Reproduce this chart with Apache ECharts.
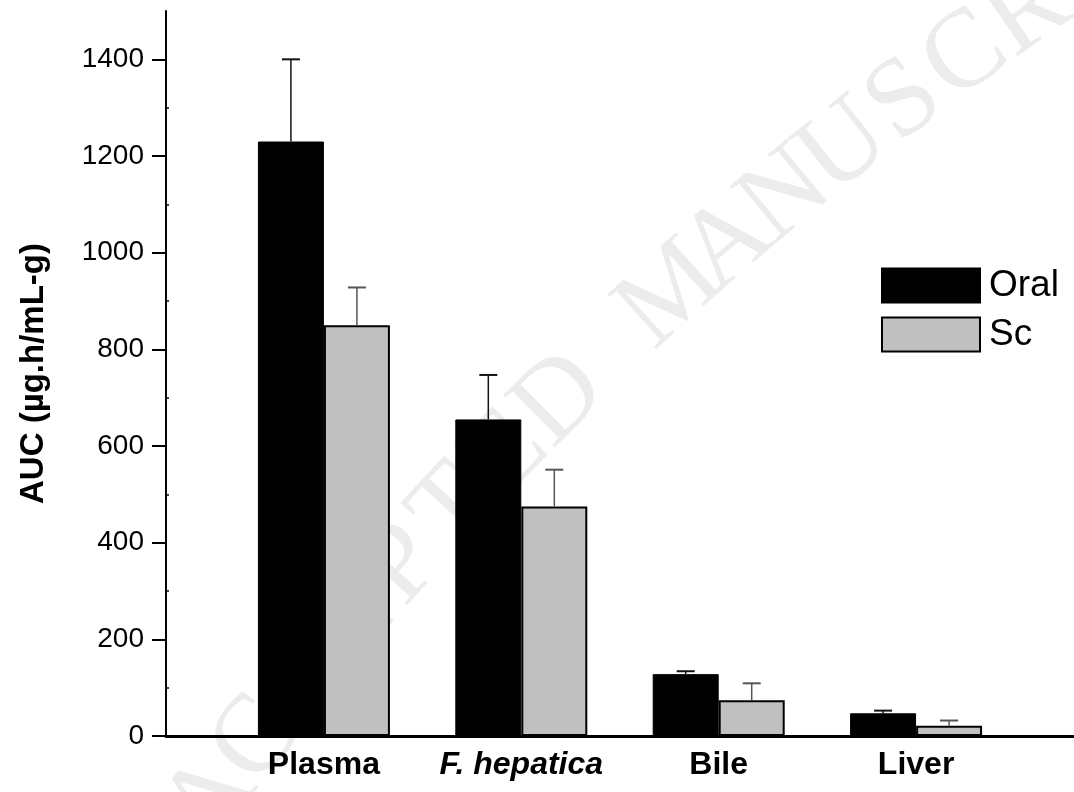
<!DOCTYPE html>
<html>
<head>
<meta charset="utf-8">
<script src="https://cdn.jsdelivr.net/npm/echarts@6/dist/echarts.min.js"></script>
<style>html,body{margin:0;padding:0;background:#fff}#c{width:1074px;height:792px}</style>
</head>
<body>
<div id="c"></div>
<script>
const categories = ['Plasma', 'F. hepatica', 'Bile', 'Liver'];
const positions = [1, 2, 3, 4];
const oralMean = [1230, 655, 128, 47];
const oralErr = [170, 92, 6, 5.5];
const scMean = [850, 475, 74, 21];
const scErr = [78, 76, 35, 11];
const yTicks = [0, 200, 400, 600, 800, 1000, 1200, 1400];
const yMinorTicks = [100, 300, 500, 700, 900, 1100, 1300];
const watermarkText = 'ACCEPTED MANUSCRIPT';

const FONT = 'Liberation Sans, Arial, sans-serif';
const BAR_W = 66;

const chart = echarts.init(document.getElementById('c'), null, {renderer: 'canvas'});

// faint curved watermark (decoration, not data)
function watermark() {
  const cx = 3032, cy = 2908, R = 3521;
  const phi0 = Math.atan2(800 - cy, 210 - cx);
  const step = 76;
  const out = [];
  for (let i = 0; i < watermarkText.length; i++) {
    const ch = watermarkText[i];
    if (ch === ' ') continue;
    const phi = phi0 + (i * step) / R;
    const x = cx + R * Math.cos(phi), y = cy + R * Math.sin(phi);
    const tx = -Math.sin(phi), ty = Math.cos(phi);
    out.push({
      type: 'text', x: x, y: y, rotation: Math.atan2(-ty, tx), z: -10, silent: true,
      style: {text: ch, font: '112px "Liberation Serif", "DejaVu Serif", serif', fill: '#ececec', align: 'center', verticalAlign: 'middle'}
    });
  }
  return out;
}

function errSeries(name, means, errs, offset, color) {
  return {
    type: 'custom',
    name: name,
    z: 5,
    silent: true,
    data: means.map((m, i) => [positions[i], m, errs[i]]),
    renderItem: function (params, api) {
      const x = api.value(0), m = api.value(1), e = api.value(2);
      const pb = api.coord([x, m]);
      const pt = api.coord([x, m + e]);
      const cx = pb[0] + offset;
      return {
        type: 'group',
        children: [
          {type: 'line', shape: {x1: cx, y1: pb[1], x2: cx, y2: pt[1]}, style: {stroke: color, lineWidth: 1.5}},
          {type: 'line', shape: {x1: cx - 9, y1: pt[1], x2: cx + 9, y2: pt[1]}, style: {stroke: color, lineWidth: 2}}
        ]
      };
    }
  };
}

const option = {
  animation: false,
  backgroundColor: '#fff',
  textStyle: {fontFamily: FONT},
  graphic: watermark(),
  grid: {left: 166, right: 0, top: 11, bottom: 56, containLabel: false},
  legend: {
    data: ['Oral', 'Sc'],
    orient: 'vertical',
    left: 881,
    top: 267,
    padding: 0,
    itemWidth: 98,
    itemHeight: 34,
    itemGap: 12,
    icon: 'rect',
    selectedMode: false,
    textStyle: {fontSize: 37, color: '#000', fontFamily: FONT, lineHeight: 34, padding: [0, 0, 0, 4]}
  },
  xAxis: {
    type: 'value',
    min: 0.2,
    max: 4.8,
    axisLine: {show: true, onZero: false, lineStyle: {color: '#000', width: 3}},
    axisTick: {show: false},
    splitLine: {show: false},
    axisLabel: {
      customValues: positions,
      margin: 13,
      fontSize: 32,
      fontWeight: 'bold',
      color: '#000',
      fontFamily: FONT,
      formatter: function (v) {
        const name = categories[positions.indexOf(Math.round(v))];
        return name === 'F. hepatica' ? '{i|' + name + '}' : name;
      },
      rich: {i: {fontSize: 32, fontWeight: 'bold', fontStyle: 'italic', color: '#000', fontFamily: FONT}}
    }
  },
  yAxis: [{
    type: 'value',
    min: 0,
    max: 1500,
    name: 'AUC (µg.h/mL-g)',
    nameLocation: 'middle',
    nameGap: 116,
    nameTextStyle: {fontSize: 33, fontWeight: 'bold', color: '#000', fontFamily: FONT},
    axisLine: {show: true, lineStyle: {color: '#000', width: 2}},
    axisTick: {show: true, length: 14, customValues: yTicks, lineStyle: {color: '#000', width: 2}},
    splitLine: {show: false},
    axisLabel: {customValues: yTicks, fontSize: 28, color: '#000', margin: 22, fontFamily: FONT,
      formatter: function (v) { return String(v); }}
  }, {
    type: 'value',
    min: 0,
    max: 1500,
    position: 'left',
    axisLine: {show: false},
    axisTick: {show: true, inside: true, length: 3, customValues: yMinorTicks, lineStyle: {color: '#000', width: 1.5}},
    axisLabel: {show: false},
    splitLine: {show: false}
  }],
  series: [
    {
      name: 'Oral',
      type: 'bar',
      barWidth: BAR_W,
      barGap: '0%',
      data: oralMean.map((v, i) => [positions[i], v]),
      itemStyle: {color: '#000', borderColor: '#000', borderWidth: 1}
    },
    {
      name: 'Sc',
      type: 'bar',
      barWidth: BAR_W,
      barGap: '0%',
      data: scMean.map((v, i) => [positions[i], v]),
      itemStyle: {color: '#c0c0c0', borderColor: '#000', borderWidth: 2}
    },
    errSeries('oralErr', oralMean, oralErr, -BAR_W / 2, '#111'),
    errSeries('scErr', scMean, scErr, BAR_W / 2, '#555')
  ]
};
chart.setOption(option);
</script>
</body>
</html>
